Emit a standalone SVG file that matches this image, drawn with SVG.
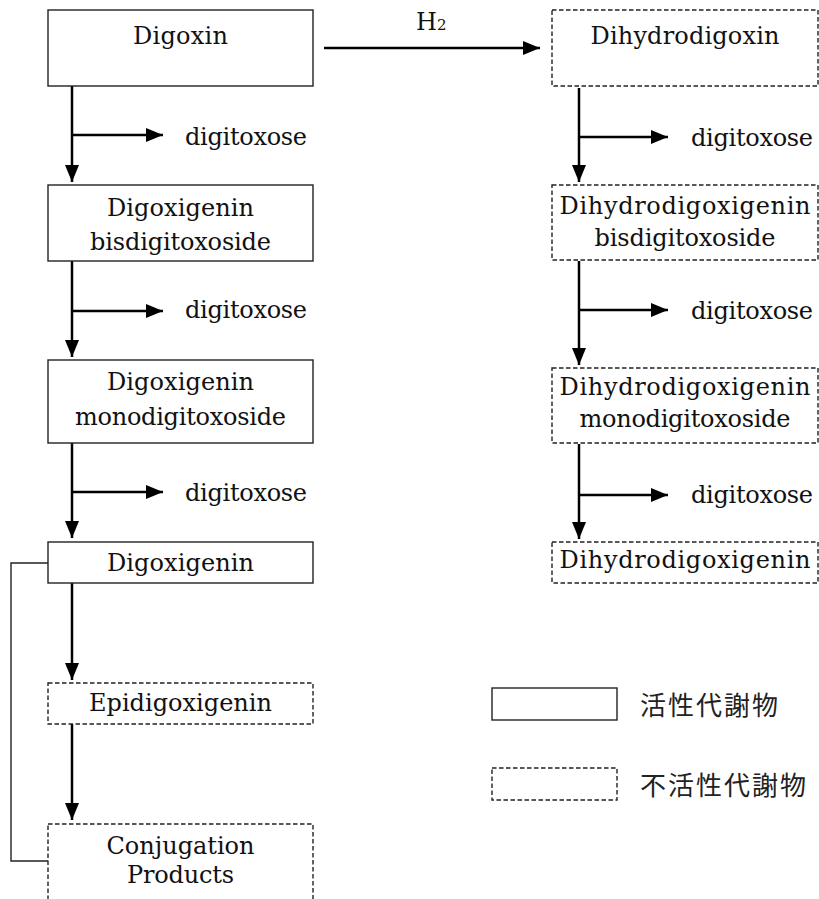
<svg xmlns="http://www.w3.org/2000/svg" width="819" height="899" viewBox="0 0 819 899">
<style>
.box{fill:#fff;stroke:#222;stroke-width:1.4}
.dash{stroke-dasharray:4.5 2.5}
.t{font-family:"DejaVu Serif","Liberation Serif",serif;font-size:24px;fill:#111;text-anchor:middle}
.lbl{font-family:"DejaVu Serif","Liberation Serif",serif;font-size:24px;fill:#111}
.cjk{font-family:"Noto Sans CJK JP","Noto Sans CJK SC",sans-serif;font-size:26px;fill:#222;letter-spacing:2px}
.arr{fill:none;stroke:#000;stroke-width:2.5}
.thin{fill:none;stroke:#222;stroke-width:1.4}
</style>
<defs>
<marker id="ah" markerUnits="userSpaceOnUse" markerWidth="18" markerHeight="15" refX="17" refY="7" orient="auto" viewBox="0 0 18 15">
<path d="M0,0 L17,7 L0,14 z" fill="#000"/>
</marker>
</defs>
<rect width="819" height="899" fill="#fff"/>
<g id="connectors">
<line class="arr" x1="324" y1="48" x2="540" y2="48" marker-end="url(#ah)"/>
<line class="arr" x1="72" y1="86" x2="72" y2="182" marker-end="url(#ah)"/>
<line class="arr" x1="72" y1="135" x2="163" y2="135" marker-end="url(#ah)"/>
<line class="arr" x1="72" y1="261" x2="72" y2="357" marker-end="url(#ah)"/>
<line class="arr" x1="72" y1="311" x2="163" y2="311" marker-end="url(#ah)"/>
<line class="arr" x1="72" y1="443" x2="72" y2="538" marker-end="url(#ah)"/>
<line class="arr" x1="72" y1="492" x2="163" y2="492" marker-end="url(#ah)"/>
<line class="arr" x1="72" y1="583" x2="72" y2="680" marker-end="url(#ah)"/>
<line class="arr" x1="72" y1="724" x2="72" y2="820" marker-end="url(#ah)"/>
<line class="arr" x1="579" y1="88" x2="579" y2="182" marker-end="url(#ah)"/>
<line class="arr" x1="579" y1="137" x2="668" y2="137" marker-end="url(#ah)"/>
<line class="arr" x1="579" y1="261" x2="579" y2="365" marker-end="url(#ah)"/>
<line class="arr" x1="579" y1="310" x2="668" y2="310" marker-end="url(#ah)"/>
<line class="arr" x1="579" y1="444" x2="579" y2="539" marker-end="url(#ah)"/>
<line class="arr" x1="579" y1="495" x2="668" y2="495" marker-end="url(#ah)"/>
<polyline class="thin" points="48,563 11,563 11,861 48,861"/>
<text class="lbl" x="416" y="30">H<tspan font-size="15">2</tspan></text>
<text class="lbl" x="185" y="145" textLength="122">digitoxose</text>
<text class="lbl" x="185" y="318" textLength="122">digitoxose</text>
<text class="lbl" x="185" y="501" textLength="122">digitoxose</text>
<text class="lbl" x="691" y="146" textLength="122">digitoxose</text>
<text class="lbl" x="691" y="319" textLength="122">digitoxose</text>
<text class="lbl" x="691" y="503" textLength="122">digitoxose</text>
</g>
<g id="digoxin">
<rect class="box" x="48" y="10" width="265" height="76"/>
<text class="t" x="180.5" y="44" textLength="95">Digoxin</text>
</g>
<g id="digoxigenin-bis">
<rect class="box" x="48" y="185" width="265" height="76"/>
<text class="t" x="180.5" y="216" textLength="147">Digoxigenin</text>
<text class="t" x="180.5" y="250" textLength="181">bisdigitoxoside</text>
</g>
<g id="digoxigenin-mono">
<rect class="box" x="48" y="360" width="265" height="83"/>
<text class="t" x="180.5" y="390" textLength="147">Digoxigenin</text>
<text class="t" x="180.5" y="425" textLength="211">monodigitoxoside</text>
</g>
<g id="digoxigenin">
<rect class="box" x="48" y="542" width="265" height="41"/>
<text class="t" x="180.5" y="571" textLength="147">Digoxigenin</text>
</g>
<g id="epidigoxigenin">
<rect class="box dash" x="48" y="683" width="265" height="41"/>
<text class="t" x="180.5" y="711" textLength="183">Epidigoxigenin</text>
</g>
<g id="conjugation">
<rect class="box dash" x="48" y="824" width="265" height="95"/>
<text class="t" x="180.5" y="854" textLength="148">Conjugation</text>
<text class="t" x="180.5" y="883" textLength="107">Products</text>
</g>
<g id="dihydrodigoxin">
<rect class="box dash" x="552" y="10" width="266" height="76"/>
<text class="t" x="685" y="44" textLength="189">Dihydrodigoxin</text>
</g>
<g id="dihydro-bis">
<rect class="box dash" x="552" y="185" width="266" height="75"/>
<text class="t" x="685" y="214" textLength="251">Dihydrodigoxigenin</text>
<text class="t" x="685" y="246" textLength="181">bisdigitoxoside</text>
</g>
<g id="dihydro-mono">
<rect class="box dash" x="552" y="368" width="266" height="75"/>
<text class="t" x="685" y="395" textLength="251">Dihydrodigoxigenin</text>
<text class="t" x="685" y="427" textLength="211">monodigitoxoside</text>
</g>
<g id="dihydrodigoxigenin">
<rect class="box dash" x="552" y="542" width="266" height="41"/>
<text class="t" x="685" y="568" textLength="251">Dihydrodigoxigenin</text>
</g>
<g id="legend">
<rect class="box" x="492" y="688" width="125" height="32"/>
<text class="cjk" x="640" y="715">活性代謝物</text>
<rect class="box dash" x="492" y="768" width="125" height="32"/>
<text class="cjk" x="640" y="795">不活性代謝物</text>
</g>
</svg>
